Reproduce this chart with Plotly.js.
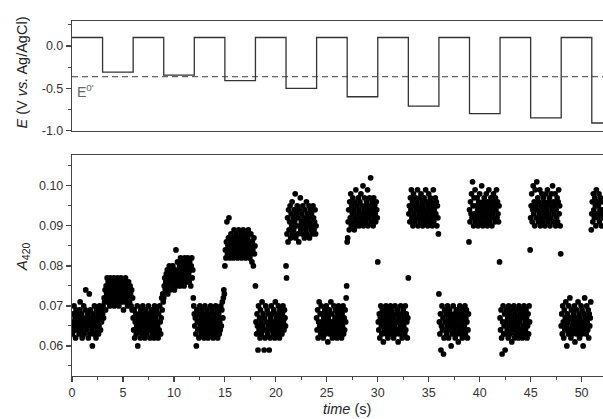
<!DOCTYPE html>
<html><head><meta charset="utf-8">
<script src="https://cdn.plot.ly/plotly-3.0.1.min.js"></script>
<style>html,body{margin:0;padding:0;background:#fff}#chart{width:603px;height:419px}</style>
</head><body><div id="chart"></div>
<script>
// ---- Top panel: applied potential step program (V vs. Ag/AgCl) ----
const switchTimes = [0,3,6,9,12,15,18,21,24,27,30,33,36,39,42,45,48,51,54];
const potential   = [0.1,-0.31,0.1,-0.345,0.1,-0.41,0.1,-0.50,0.1,-0.60,0.1,-0.71,0.1,-0.80,0.1,-0.85,0.1,-0.91,-0.91];
const formalPotential = -0.362;

// ---- Bottom panel: A420 readings (milli-absorbance), one array per 3 s step ----
const segStart = [0,3,6,9,12,15,18,21,24,27,30,33,36,39,42,45,48,51];
const sampleInterval = 0.05; // s
const mA_00 = [66,63,68,65,70,64,67,62,69,66,64,68,65,67,63,69,71,66,64,68,62,65,67,70,63,66,69,74,64,67,
65,68,62,66,73,63,69,65,67,64,60,68,66,63,70,65,67,62,69,64,66,68,63,65,70,67,64,69,66,68];
const mA_03 = [68,70,67,72,71,74,69,75,73,77,71,76,72,74,70,77,75,73,71,76,74,72,77,70,75,73,76,71,74,77,
72,75,70,73,76,74,77,71,72,75,73,69,76,74,71,77,72,75,73,70,74,76,72,71,75,73,70,74,69,72];
const mA_06 = [67,64,69,62,66,68,63,65,70,60,67,64,68,66,62,69,65,63,67,70,64,66,68,62,65,69,63,67,64,66,
70,65,68,62,64,67,69,63,66,65,68,62,70,64,67,63,69,66,65,62,68,64,70,66,63,67,72,69,73,71];
const mA_09 = [72,75,77,74,76,78,75,79,73,77,76,80,74,78,76,79,75,77,80,76,78,74,79,77,84,75,78,81,76,79,
77,80,75,82,78,76,81,79,77,80,75,82,78,81,76,79,77,82,80,78,76,81,79,75,80,82,77,79,72,70];
const mA_12 = [68,65,67,63,60,69,66,64,68,62,66,70,65,67,63,69,64,66,68,62,65,70,67,63,66,69,64,62,68,65,
67,63,70,66,64,69,65,62,68,67,63,66,70,64,65,69,62,67,68,63,66,64,70,65,69,71,67,72,74,73];
const mA_15 = [80,84,82,86,91,83,85,87,92,84,82,86,88,83,85,87,84,82,89,86,83,85,88,84,87,82,86,89,83,85,
87,84,88,82,86,85,89,83,87,84,86,82,88,85,83,87,89,84,86,82,85,88,83,81,86,84,80,87,83,85];
const mA_18 = [75,66,63,68,65,59,70,64,67,62,69,66,63,71,65,68,64,59,67,62,70,66,64,69,63,65,68,59,66,62,
67,70,64,68,65,63,69,66,62,71,64,67,65,68,63,70,66,62,69,64,67,65,63,68,70,66,64,69,67,65];
const mA_21 = [80,77,88,92,86,94,89,91,95,87,93,90,96,88,92,89,94,91,98,87,93,90,95,88,92,86,94,90,97,89,
91,93,88,95,90,92,87,94,91,89,96,88,93,90,92,95,87,91,94,89,93,88,90,95,92,89,91,94,88,90];
const mA_24 = [67,64,69,62,66,71,65,68,63,70,66,64,68,62,67,65,69,63,66,70,64,68,61,67,65,69,63,66,71,64,
68,62,66,65,70,63,67,69,64,66,62,68,65,70,63,67,64,69,66,62,68,65,70,63,67,64,69,66,72,75];
const mA_27 = [86,87,91,94,89,96,92,98,90,95,93,97,91,94,89,96,92,99,90,95,93,91,97,94,90,96,92,98,91,95,
93,100,90,94,97,92,95,91,96,93,99,90,94,92,97,95,102,91,93,96,94,90,97,92,95,93,91,96,94,92];
const mA_30 = [81,66,64,68,62,67,70,65,63,69,66,61,68,64,67,65,70,63,66,69,62,68,64,67,65,70,63,66,69,64,
68,62,67,65,70,63,66,68,64,69,61,66,67,63,65,70,68,64,62,66,69,65,67,63,70,64,68,66,62,67];
const mA_33 = [77,93,95,91,97,94,99,92,96,90,98,93,95,91,97,94,92,96,99,90,95,93,97,91,94,98,92,96,90,95,
93,97,91,94,99,92,96,93,90,95,98,91,94,97,92,96,93,90,95,99,91,94,92,97,93,96,90,95,92,88];
const mA_36 = [73,66,63,68,59,65,70,64,67,58,62,69,66,64,68,63,65,70,67,62,66,69,64,68,60,65,63,67,70,66,
64,68,62,65,69,63,67,66,61,68,64,70,65,63,67,69,62,66,68,64,65,70,63,67,69,66,62,64,68,86];
const mA_39 = [94,91,96,93,98,92,101,95,90,97,93,99,91,95,92,97,94,90,96,93,98,91,95,92,100,94,90,96,93,97,
91,95,92,98,94,90,96,93,99,91,95,92,97,94,90,96,93,98,92,95,91,97,94,99,92,96,93,91,95,81];
const mA_42 = [67,64,69,62,58,66,70,63,65,68,59,66,63,69,64,67,62,70,65,68,63,66,69,61,64,67,65,70,62,68,
66,63,69,64,67,65,62,70,66,68,63,64,69,67,62,65,68,70,63,66,64,69,67,62,65,68,63,70,66,84];
const mA_45 = [92,95,98,91,94,100,93,96,90,99,95,92,101,94,97,91,96,93,99,90,95,92,98,94,91,97,96,93,90,95,
98,92,94,99,91,96,93,97,90,95,92,98,94,100,91,96,93,95,98,90,94,92,97,91,96,99,93,95,90,83];
const mA_48 = [65,68,63,70,66,62,69,64,67,71,65,60,68,66,63,70,64,72,67,62,69,65,63,66,68,64,70,61,67,65,
69,63,66,71,64,68,62,67,65,70,63,69,66,60,64,68,72,65,67,63,70,66,64,69,62,68,65,67,71,89];
const mA_51 = [93,96,91,98,94,92,97,95,90,99,93,96,92,95,98,91,94,97,93,90,96,94,92];
const segments = [mA_00,mA_03,mA_06,mA_09,mA_12,mA_15,mA_18,mA_21,mA_24,mA_27,mA_30,mA_33,mA_36,mA_39,mA_42,mA_45,mA_48,mA_51];

// ---- Tick labels ----
const timeTicks = [0,5,10,15,20,25,30,35,40,45,50];
const timeMinor = [2.5,7.5,12.5,17.5,22.5,27.5,32.5,37.5,42.5,47.5];
const aTicks = [0.06,0.07,0.08,0.09,0.10];
const aTickText = ['0.06','0.07','0.08','0.09','0.10'];
const aMinor = [0.055,0.065,0.075,0.085,0.095,0.105];
const eTicks = [-1.0,-0.5,0.0];
const eTickText = ['-1.0','-0.5','0.0'];
const eMinor = [-0.75,-0.25,0.25];

const tA = [], A = [];
segments.forEach((arr,k)=>arr.forEach((v,i)=>{ tA.push(segStart[k] + i*sampleInterval); A.push(v/1000); }));

const axisCol = '#444';
const traces = [
  {x: switchTimes, y: potential, xaxis:'x2', yaxis:'y2', type:'scatter', mode:'lines',
   line:{shape:'hv', color:'#333', width:1.3}, hoverinfo:'skip'},
  {x: tA, y: A, xaxis:'x', yaxis:'y', type:'scatter', mode:'markers',
   marker:{size:5.7, color:'#000', line:{width:0}}}
];

const baseAxis = {showline:true, linecolor:axisCol, linewidth:1.2, showgrid:false, zeroline:false,
  ticks:'outside', ticklen:5, tickwidth:1.2, tickcolor:axisCol};

const layout = {
  width:603, height:419,
  margin:{l:72, r:0, t:21, b:43},
  paper_bgcolor:'#fff', plot_bgcolor:'#fff', showlegend:false,
  font:{family:'"Liberation Sans", Arial, sans-serif', size:12.5, color:'#333'},
  xaxis: Object.assign({}, baseAxis, {domain:[0,1], anchor:'y', range:[0,52.1], mirror:true,
    tickmode:'array', tickvals:timeTicks, ticktext:timeTicks.map(String),
    minor:{tickmode:'array', tickvals:timeMinor, ticks:'outside', ticklen:3, tickwidth:1, tickcolor:axisCol}}),
  yaxis: Object.assign({}, baseAxis, {domain:[0,0.6225], anchor:'x', range:[0.0525,0.1077],
    tickmode:'array', tickvals:aTicks, ticktext:aTickText,
    minor:{tickmode:'array', tickvals:aMinor, ticks:'outside', ticklen:3, tickwidth:1, tickcolor:axisCol}}),
  xaxis2: Object.assign({}, baseAxis, {domain:[0,1], anchor:'y2', range:[0,52.1], mirror:true,
    ticks:'', showticklabels:false}),
  yaxis2: Object.assign({}, baseAxis, {domain:[0.69,1], anchor:'x2', range:[-1.005,0.295],
    tickmode:'array', tickvals:eTicks, ticktext:eTickText,
    minor:{tickmode:'array', tickvals:eMinor, ticks:'outside', ticklen:3, tickwidth:1, tickcolor:axisCol}}),
  shapes:[{type:'line', xref:'x2 domain', x0:0, x1:1, yref:'y2', y0:formalPotential, y1:formalPotential,
    line:{color:'#666', width:1.2, dash:'6px,4px'}, layer:'below'}],
  annotations:[
    {text:"E<sup>0'</sup>", xref:'x2', yref:'y2', x:0.25, y:-0.53, xanchor:'left', yanchor:'middle',
     showarrow:false, font:{size:14, color:'#666'}},
    {text:'<i>E</i> (V <i>vs.</i> Ag/AgCl)', xref:'paper', yref:'paper', x:-0.094, y:0.855, textangle:-90,
     xanchor:'center', yanchor:'middle', showarrow:false, font:{size:14.5, color:'#222'}},
    {text:'<i>A</i><sub>420</sub>', xref:'paper', yref:'paper', x:-0.094, y:0.335, textangle:-90,
     xanchor:'center', yanchor:'middle', showarrow:false, font:{size:15, color:'#222'}},
    {text:'<i>time</i> (s)', xref:'paper', yref:'paper', x:0.518, y:-0.093,
     xanchor:'center', yanchor:'middle', showarrow:false, font:{size:14.5, color:'#222'}}
  ]
};

Plotly.newPlot('chart', traces, layout, {displayModeBar:false, staticPlot:true});
</script>
</body></html>
